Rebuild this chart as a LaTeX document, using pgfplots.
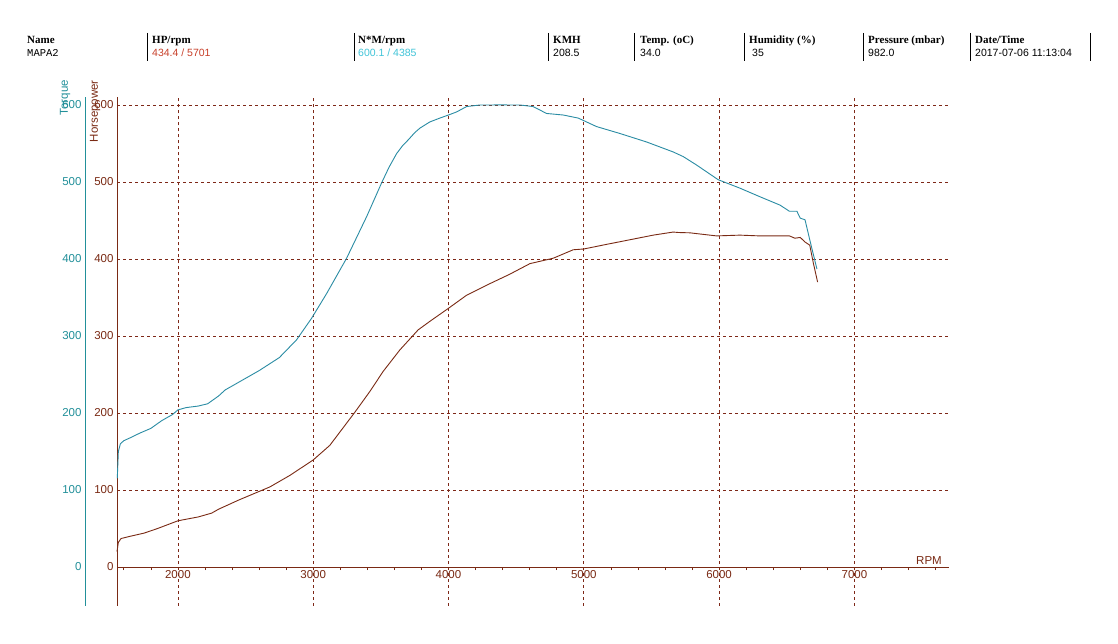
\documentclass[border=0pt]{standalone}
\usepackage{fontspec}
\setmainfont{Liberation Serif}
\setsansfont{Liberation Sans}
\newfontfamily\monofnt{Liberation Mono}
\usepackage{pgfplots}
\pgfplotsset{compat=1.18}

\definecolor{hpc}{HTML}{7A2A14}
\definecolor{tqc}{HTML}{2A8CA4}
\definecolor{tqax}{HTML}{22909A}
\definecolor{hpval}{HTML}{C8402A}
\definecolor{tqval}{HTML}{40C4D8}
\definecolor{gridc}{HTML}{7E2818}

\newcommand{\hdr}{\bfseries\fontsize{11}{13}\selectfont}
\newcommand{\val}{\sffamily\fontsize{10.5}{12}\selectfont}
\newcommand{\tkf}{\sffamily\fontsize{11.5}{13}\selectfont}

\begin{document}
\begin{tikzpicture}[x=1pt,y=1pt]
\path[use as bounding box, fill=white] (0,0) rectangle (1118,643);

% header table
\foreach \xx in {147,354,548,634,744,863,970,1090}
  \draw[black, line width=0.6pt] (\xx,610) -- (\xx,582);
\foreach \xx/\tt in {27/{Name},152/{HP/rpm},358/{N*M/rpm},553/{KMH},640/{Temp. (oC)},749/{Humidity (\%)},868/{Pressure (mbar)},975/{Date/Time}}
  \node[anchor=base west, inner sep=0pt, font=\hdr] at (\xx,599) {\tt};
\node[anchor=base west, inner sep=0pt, font=\monofnt\fontsize{10.5}{12}\selectfont] at (27,586) {MAPA2};
\node[anchor=base west, inner sep=0pt, font=\val, text=hpval] at (152,586) {434.4 / 5701};
\node[anchor=base west, inner sep=0pt, font=\val, text=tqval] at (358,586) {600.1 / 4385};
\node[anchor=base west, inner sep=0pt, font=\val] at (553,586) {208.5};
\node[anchor=base west, inner sep=0pt, font=\val] at (640,586) {34.0};
\node[anchor=base west, inner sep=0pt, font=\val] at (752,586) {35};
\node[anchor=base west, inner sep=0pt, font=\val] at (868,586) {982.0};
\node[anchor=base west, inner sep=0pt, font=\val] at (975,586) {2017-07-06 11:13:04};

% torque scale
\begin{axis}[
  at={(85pt,37.5pt)}, anchor=south west,
  scale only axis, width=10pt, height=508.2pt,
  xmin=0, xmax=1, ymin=-50, ymax=610,
  axis y line=left, axis x line=none,
  axis line style={-, color=tqax, line width=0.8pt},
  ytick={0,100,...,600}, major tick length=0pt,
  yticklabel style={font=\tkf, text=tqax},
  /pgf/number format/assume math mode=true,
  hide obscured y ticks=false,
]
\end{axis}

% main axis
\begin{axis}[
  at={(117pt,37.5pt)}, anchor=south west,
  scale only axis, width=832.1pt, height=508.2pt,
  xmin=1550, xmax=7700, ymin=-50, ymax=610,
  axis x line=middle, axis y line=left,
  axis line style={-, color=hpc, line width=0.8pt},
  xtick={2000,3000,...,7000},
  minor xtick={1600,1800,...,7600},
  ytick={0,100,...,600},
  major tick length=0pt, minor tick length=3pt,
  tick align=outside,
  tick style={color=hpc, line width=0.6pt},
  grid=major,
  major grid style={gridc, dash pattern=on 3pt off 3pt, line width=0.6pt},
  ticklabel style={font=\tkf, text=hpc},
  /pgf/number format/assume math mode=true,
  /pgf/number format/set thousands separator={},
  hide obscured x ticks=false, hide obscured y ticks=false,
  clip=false,
]
% Torque (N*m)
\addplot[tqc, line width=0.9pt] coordinates {
  (1552,115) (1560,150) (1575,160) (1600,164) (1650,168) (1720,174)
  (1800,180) (1880,190) (1960,198) (2000,204) (2060,207) (2150,209)
  (2220,212) (2300,222) (2350,230) (2500,245) (2600,255) (2750,272)
  (2877,295) (2988,323) (3099,355) (3247,401) (3395,455) (3506,499)
  (3560,519) (3617,537) (3660,547) (3704,555) (3750,564) (3789,570)
  (3862,578) (3936,583) (4000,587) (4060,591) (4134,598) (4232,600)
  (4385,600.1) (4528,600) (4625,598) (4725,589) (4848,587) (4959,583)
  (5094,572) (5267,563) (5464,552) (5661,539) (5735,533) (5834,522)
  (5993,503) (6154,492) (6300,481) (6450,470) (6520,462) (6575,462)
  (6600,453) (6635,451) (6670,425) (6723,387)
};
% Horsepower
\addplot[hpc, line width=0.9pt] coordinates {
  (1550,20) (1560,32) (1580,37) (1650,40) (1750,44) (1850,50)
  (2000,60) (2150,65) (2250,70) (2300,75) (2450,87) (2680,104)
  (2828,119) (3000,139) (3123,158) (3308,201) (3419,228) (3517,254)
  (3641,282) (3776,308) (3862,319) (4000,336) (4134,353) (4306,368)
  (4450,380) (4602,394) (4774,401) (4922,412) (5000,413) (5168,419)
  (5341,425) (5513,431) (5661,435) (5701,434.4) (5784,434) (5981,430)
  (6154,431) (6300,430) (6520,430) (6560,427) (6600,428) (6635,422)
  (6670,418) (6695,396) (6728,370)
};
\end{axis}

\node[anchor=base, inner sep=0pt, font=\tkf, text=hpc] at (929,79) {RPM};
\node[rotate=90, anchor=east, inner sep=0pt, font=\tkf, text=tqax] at (65,563) {Torque};
\node[rotate=90, anchor=east, inner sep=0pt, font=\tkf, text=hpc] at (95,563) {Horsepower};
\end{tikzpicture}
\end{document}
